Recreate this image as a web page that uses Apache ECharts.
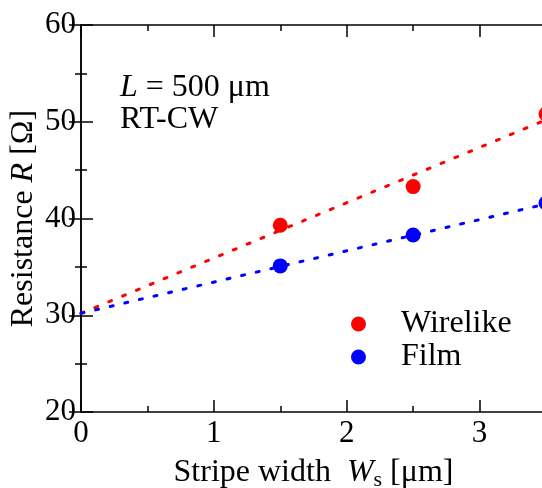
<!DOCTYPE html>
<html>
<head>
<meta charset="utf-8">
<script src="https://cdn.jsdelivr.net/npm/echarts@6/dist/echarts.min.js"></script>
<style>
  html, body { margin: 0; padding: 0; background: #fff; }
  #chart { width: 542px; height: 488px; }
</style>
</head>
<body>
<div id="chart"></div>
<script>
// measured points
const widths = [1.5, 2.5, 3.5]
const wirelike = [39.3, 43.3, 50.8]
const film = [35.1, 38.3, 41.6]

// fitted dotted lines
const fitX = [0, 3.5]
const wirelikeFit = [30.2, 50.2]
const filmFit = [30.2, 41.5]

const serif = 'Liberation Serif, Times New Roman, serif'
const pair = (xs, ys) => xs.map((x, i) => [x, ys[i]])

const chart = echarts.init(document.getElementById('chart'))

const axisCommon = {
  axisLine: { show: true, lineStyle: { color: '#000', width: 1.5 } },
  axisTick: { show: true, inside: true, length: 12, lineStyle: { color: '#000', width: 1.5 } },
  minorTick: { show: true, splitNumber: 2, length: 6, lineStyle: { color: '#000', width: 1.5 } },
  splitLine: { show: false }
}

const option = {
  animation: false,
  grid: { left: 81, top: 25, right: -4, bottom: 76, outerBoundsMode: 'none' },
  legend: {
    data: ['Wirelike', 'Film'],
    orient: 'vertical',
    left: 346,
    top: 303,
    icon: 'circle',
    itemWidth: 15,
    itemHeight: 15,
    itemGap: 1,
    textStyle: { fontFamily: serif, fontSize: 32, color: '#000', padding: [0, 0, 0, 30] }
  },
  graphic: [
    {
      type: 'text',
      left: 120,
      top: 72,
      style: {
        text: '{i|L} = 500 μm\n{a|RT-CW}',
        fontFamily: serif,
        fontSize: 32,
        lineHeight: 32,
        fill: '#000',
        rich: {
          i: { fontStyle: 'italic', fontFamily: serif, fontSize: 32, lineHeight: 32 },
          a: { fontFamily: serif, fontSize: 32, lineHeight: 32 }
        }
      }
    }
  ],
  xAxis: [
    Object.assign({}, axisCommon, {
      type: 'value',
      min: 0,
      max: 3.5,
      interval: 1,
      name: '{a|Stripe width  }{i|W}{s|s}{a| [μm]}',
      nameLocation: 'middle',
      nameGap: 43,
      nameTextStyle: {
        rich: {
          a: { fontFamily: serif, fontSize: 32, color: '#000' },
          i: { fontFamily: serif, fontSize: 32, fontStyle: 'italic', color: '#000' },
          s: { fontFamily: serif, fontSize: 22, color: '#000', padding: [14, 0, 0, 0] }
        }
      },
      axisLabel: { fontFamily: serif, fontSize: 31, color: '#000', margin: 6, showMaxLabel: false }
    }),
    Object.assign({}, axisCommon, {
      type: 'value',
      position: 'top',
      min: 0,
      max: 3.5,
      interval: 1,
      axisLabel: { show: false }
    })
  ],
  yAxis: [
    Object.assign({}, axisCommon, {
      type: 'value',
      min: 20,
      max: 60,
      interval: 10,
      name: '{a|Resistance }{i|R}{a| [Ω]}',
      nameLocation: 'middle',
      nameRotate: 90,
      nameGap: 41,
      nameMoveOverlap: false,
      nameTextStyle: {
        rich: {
          a: { fontFamily: serif, fontSize: 32, color: '#000' },
          i: { fontFamily: serif, fontSize: 32, fontStyle: 'italic', color: '#000' }
        }
      },
      axisLabel: { fontFamily: serif, fontSize: 31, color: '#000', margin: 5 }
    }),
    Object.assign({}, axisCommon, {
      type: 'value',
      position: 'right',
      min: 20,
      max: 60,
      interval: 10,
      axisLabel: { show: false }
    })
  ],
  series: [
    {
      name: 'WirelikeFit',
      type: 'line',
      data: pair(fitX, wirelikeFit),
      showSymbol: false,
      lineStyle: { color: '#ff0000', width: 3, type: [3, 12], cap: 'round' },
      z: 1
    },
    {
      name: 'FilmFit',
      type: 'line',
      data: pair(fitX, filmFit),
      showSymbol: false,
      lineStyle: { color: '#0000ff', width: 3, type: [3, 12], cap: 'round' },
      z: 1
    },
    {
      name: 'Wirelike',
      type: 'scatter',
      data: pair(widths, wirelike),
      symbolSize: 15,
      itemStyle: { color: '#ff0000', opacity: 1 },
      z: 3
    },
    {
      name: 'Film',
      type: 'scatter',
      data: pair(widths, film),
      symbolSize: 15,
      itemStyle: { color: '#0000ff', opacity: 1 },
      z: 3
    }
  ]
}

chart.setOption(option)
</script>
</body>
</html>
